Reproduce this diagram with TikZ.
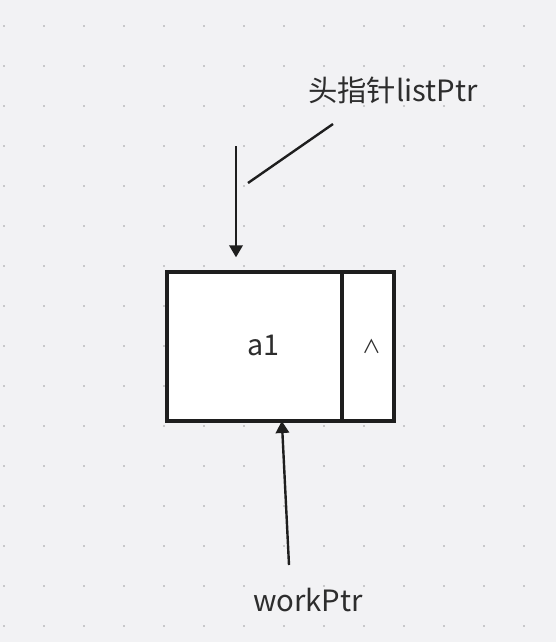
\documentclass[tikz,border=0pt]{standalone}
\usepackage{fontspec}
\setmainfont{Noto Sans CJK SC}
\usetikzlibrary{arrows.meta}
\definecolor{paper}{RGB}{242,242,244}
\definecolor{griddot}{RGB}{200,200,202}
\definecolor{ink}{RGB}{30,30,30}
\definecolor{textgray}{RGB}{45,45,45}

\begin{document}
\begin{tikzpicture}[x=0.75pt,y=-0.75pt,
    cell/.style={draw=ink, line width=2.4pt, fill=white, inner sep=0pt, outer sep=0pt,
        minimum height=149*0.75pt, text=textgray, font=\fontsize{21.5pt}{25pt}\selectfont},
    ptrlabel/.style={text=textgray, inner sep=1pt, font=\fontsize{22pt}{26pt}\selectfont},
    ptr/.style={draw=ink, line width=1.8pt, -{Triangle[width=10pt,length=9pt]}}]
                % Paper with dot grid
                \fill[paper] (0,0) rectangle (556,642);
                \foreach \gx in {4,44,...,524}
                    \foreach \gy in {26,66,...,626}
                        \fill[griddot] (\gx-1,\gy-1) rectangle (\gx+1,\gy+1);

                % List node: data and next
                \node[cell, minimum width=175*0.75pt] (data) at (254.5,346.5) {\raisebox{2.5pt}{\hspace{13pt}a1}};
                \node[cell, minimum width=52*0.75pt, anchor=west] (next) at (data.east) {\hspace{6pt}\fontsize{14pt}{16pt}\selectfont ∧};

                % Head pointer listPtr
                \node[ptrlabel] (head) at (393,90) {头指针listPtr};
                \coordinate (headtop) at (236,146);
                \coordinate (leadA) at (333,124);
                \coordinate (leadB) at (248,183);
                \draw[ptr, shorten >=11pt] (headtop) -- (headtop |- data.north);
                \draw[draw=ink, line width=1.8pt] (leadA) -- (leadB);

                % Work pointer
                \node[ptrlabel] (work) at (308,600) {workPtr};
                \coordinate (workfoot) at (289,565);
                \draw[ptr] (workfoot) -- ([xshift=20.5pt]data.south);
\end{tikzpicture}
\end{document}
